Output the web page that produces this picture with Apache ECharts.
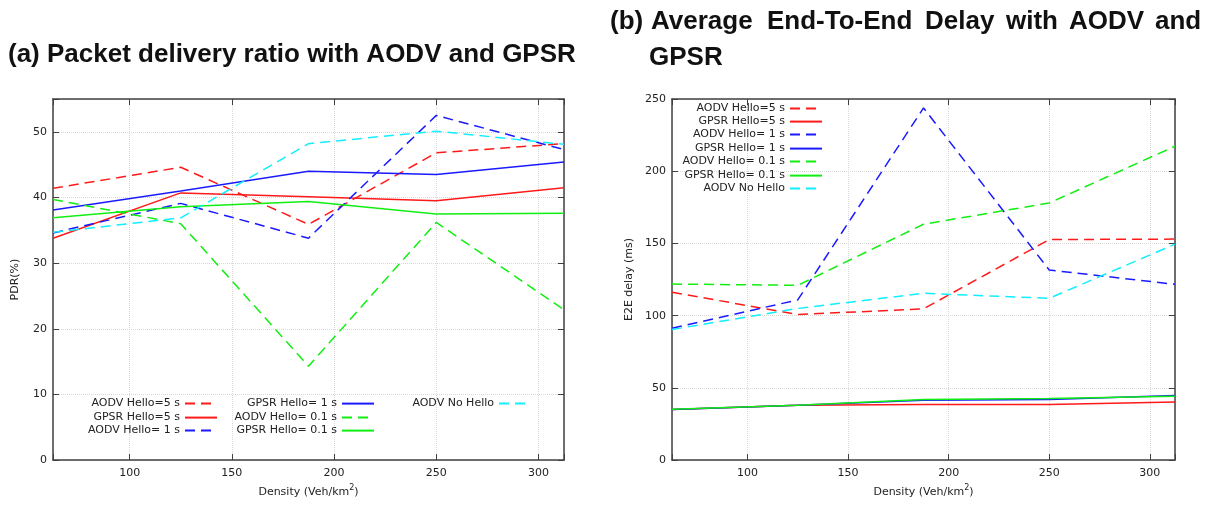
<!DOCTYPE html>
<html>
<head>
<meta charset="utf-8">
<script src="https://cdn.jsdelivr.net/npm/echarts@6/dist/echarts.min.js"></script>
<style>
html,body{margin:0;padding:0;background:#fff;}
#chart{width:1214px;height:505px;}
</style>
</head>
<body>
<div id="chart"></div>
<script>
// ---------- data ----------
const density = [62.5, 125, 187.5, 250, 312.5];
const seriesNames = ['AODV Hello=5 s', 'GPSR Hello=5 s', 'AODV Hello= 1 s', 'GPSR Hello= 1 s', 'AODV Hello= 0.1 s', 'GPSR Hello= 0.1 s', 'AODV No Hello'];

// (a) Packet delivery ratio (%)
const pdrAodv5   = [41.4, 44.6, 35.9, 46.8, 48.2];
const pdrGpsr5   = [33.8, 40.7, 40.1, 39.5, 41.5];
const pdrAodv1   = [34.6, 39.1, 33.8, 52.5, 47.3];
const pdrGpsr1   = [38.1, 41.0, 44.0, 43.5, 45.4];
const pdrAodv01  = [39.7, 36.0, 14.3, 36.2, 22.9];
const pdrGpsr01  = [36.9, 38.6, 39.4, 37.5, 37.6];
const pdrNoHello = [34.7, 36.9, 48.2, 50.1, 48.1];

// (b) Average end-to-end delay (ms)
const e2eAodv5   = [116.2, 100.8, 104.7, 152.7, 153.0];
const e2eGpsr5   = [35.0, 38.0, 38.5, 38.5, 40.3];
const e2eAodv1   = [91.3, 110.9, 243.8, 131.6, 121.7];
const e2eGpsr1   = [35.0, 38.0, 41.5, 42.0, 44.8];
const e2eAodv01  = [121.9, 121.0, 163.3, 178.0, 217.3];
const e2eGpsr01  = [35.2, 38.0, 42.0, 42.6, 44.2];
const e2eNoHello = [90.4, 105.0, 115.5, 112.0, 149.5];

const pdrTitle = '(a) Packet delivery ratio with AODV and GPSR';
const e2eTitleLine1 = ['(b)', 'Average', 'End-To-End', 'Delay', 'with', 'AODV', 'and'];
const e2eTitleLine2 = 'GPSR';

// ---------- styles ----------
const colors = ['#ff1a1a', '#ff1a1a', '#1a1aff', '#1a1aff', '#11ee11', '#11ee11', '#11eeff'];
const dashed = [true, false, true, false, true, false, true];
const FONT = 'DejaVu Sans';
const TITLE_FONT = 'Liberation Sans';
const axisColor = '#404040';
const gridColor = '#d8d8d8';

const pdrData = [pdrAodv5, pdrGpsr5, pdrAodv1, pdrGpsr1, pdrAodv01, pdrGpsr01, pdrNoHello];
const e2eData = [e2eAodv5, e2eGpsr5, e2eAodv1, e2eGpsr1, e2eAodv01, e2eGpsr01, e2eNoHello];

function mkSeries(vals, i, xi, yi) {
  return {
    name: seriesNames[i],
    type: 'line',
    xAxisIndex: xi,
    yAxisIndex: yi,
    symbol: 'none',
    showSymbol: false,
    data: density.map((d, k) => [d, vals[k]]),
    lineStyle: { color: colors[i], width: 1.5, type: dashed[i] ? [10, 6] : 'solid' },
    itemStyle: { color: colors[i] },
    z: 2 + i
  };
}

const series = [];
pdrData.forEach((v, i) => series.push(mkSeries(v, i, 0, 0)));
e2eData.forEach((v, i) => series.push(mkSeries(v, i, 2, 2)));

function xAxisMain(grid) {
  return {
    type: 'value', gridIndex: grid, position: 'bottom',
    min: 62.5, max: 312.5,
    name: 'Density (Veh/km{sup|2})',
    nameLocation: 'middle', nameGap: 23,
    nameTextStyle: {
      fontFamily: FONT, fontSize: 11, color: '#222', lineHeight: 16,
      rich: { sup: { fontFamily: FONT, fontSize: 8, color: '#222', verticalAlign: 'top', lineHeight: 16 } }
    },
    axisLine: { show: true, onZero: false, lineStyle: { color: axisColor, width: 1.5 } },
    axisTick: { show: true, inside: true, length: 6, lineStyle: { color: axisColor, width: 1 } },
    axisLabel: {
      show: true, margin: 8, fontFamily: FONT, fontSize: 11, color: '#222',
      formatter: v => (Math.abs(v % 50) < 1e-9 ? String(v) : '')
    },
    splitLine: { show: true, lineStyle: { color: gridColor, type: 'dotted', width: 1 } }
  };
}
function xAxisMirror(grid) {
  return {
    type: 'value', gridIndex: grid, position: 'top',
    min: 62.5, max: 312.5,
    axisLine: { show: true, onZero: false, lineStyle: { color: axisColor, width: 1.5 } },
    axisTick: { show: true, inside: true, length: 6, lineStyle: { color: axisColor, width: 1 } },
    axisLabel: { show: false },
    splitLine: { show: false }
  };
}
function yAxisMain(grid, max, interval, name, gap) {
  return {
    type: 'value', gridIndex: grid, position: 'left',
    min: 0, max: max, interval: interval,
    name: name, nameLocation: 'middle', nameGap: gap,
    nameTextStyle: { fontFamily: FONT, fontSize: 11, color: '#222' },
    axisLine: { show: true, onZero: false, lineStyle: { color: axisColor, width: 1.5 } },
    axisTick: { show: true, inside: true, length: 6, lineStyle: { color: axisColor, width: 1 } },
    axisLabel: {
      show: true, margin: 6, fontFamily: FONT, fontSize: 11, color: '#222',
      formatter: v => (Math.abs(v % interval) < 1e-9 ? String(v) : '')
    },
    splitLine: { show: true, lineStyle: { color: gridColor, type: 'dotted', width: 1 } }
  };
}
function yAxisMirror(grid, max, interval) {
  return {
    type: 'value', gridIndex: grid, position: 'right',
    min: 0, max: max, interval: interval,
    axisLine: { show: true, onZero: false, lineStyle: { color: axisColor, width: 1.5 } },
    axisTick: { show: true, inside: true, length: 6, lineStyle: { color: axisColor, width: 1 } },
    axisLabel: { show: false },
    splitLine: { show: false }
  };
}

function legendItem(name, right, top) {
  return {
    data: [name],
    right: right, top: top,
    orient: 'vertical', align: 'right',
    padding: 0, itemGap: 0,
    itemWidth: 32, itemHeight: 14,
    selectedMode: false,
    itemStyle: { opacity: 0 },
    textStyle: { fontFamily: FONT, fontSize: 11, color: '#222' }
  };
}

// left legend: 3 columns
const legends = [
  legendItem(seriesNames[0], 996, 398),
  legendItem(seriesNames[1], 996, 412),
  legendItem(seriesNames[2], 996, 425),
  legendItem(seriesNames[3], 839, 398),
  legendItem(seriesNames[4], 839, 412),
  legendItem(seriesNames[5], 839, 425),
  legendItem(seriesNames[6], 682, 398)
];
// right legend: single column
const rightTops = [103, 116, 129, 143, 156, 170, 183];
seriesNames.forEach((n, i) => legends.push(legendItem(n, 391, rightTops[i])));

const titleStyle = { fontFamily: TITLE_FONT, fontSize: 26, fontWeight: 'bold', color: '#111' };
const wordLefts = [610, 651, 767, 925, 1006, 1069, 1155];
const titles = [{ text: pdrTitle, left: 8, top: 42, padding: 0, textStyle: titleStyle }];
e2eTitleLine1.forEach((w, i) => titles.push({ text: w, left: wordLefts[i], top: 9, padding: 0, textStyle: titleStyle }));
titles.push({ text: e2eTitleLine2, left: 649, top: 45, padding: 0, textStyle: titleStyle });

const option = {
  animation: false,
  backgroundColor: '#fff',
  title: titles,
  legend: legends,
  grid: [
    { left: 53, right: 650, top: 99, bottom: 43, containLabel: false },
    { left: 672, right: 39, top: 99, bottom: 43, containLabel: false }
  ],
  xAxis: [xAxisMain(0), xAxisMirror(0), xAxisMain(1), xAxisMirror(1)],
  yAxis: [
    yAxisMain(0, 55, 10, 'PDR(%)', 32),
    yAxisMirror(0, 55, 10),
    yAxisMain(1, 250, 50, 'E2E delay (ms)', 37),
    yAxisMirror(1, 250, 50)
  ],
  series: series
};

const chart = echarts.init(document.getElementById('chart'), null, { renderer: 'canvas' });
chart.setOption(option);
</script>
</body>
</html>
